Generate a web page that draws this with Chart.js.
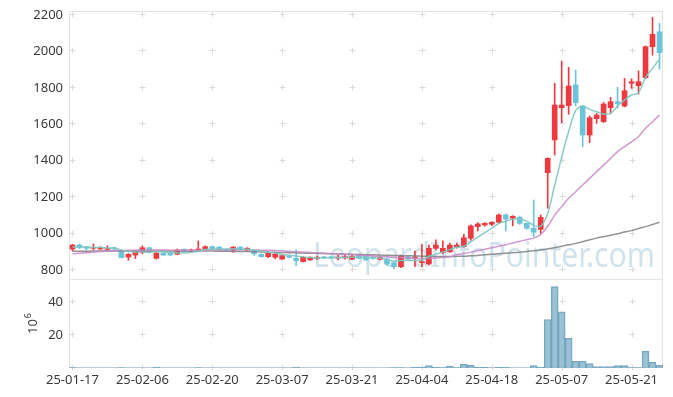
<!DOCTYPE html>
<html>
<head>
<meta charset="utf-8">
<script src="https://cdn.jsdelivr.net/npm/chart.js@4.4.1/dist/chart.umd.min.js"></script>
<style>
  html, body { margin: 0; padding: 0; background: #fff; }
  #wrap { position: relative; width: 673px; height: 397px; }
  #price { position: absolute; left: 0; top: 0; }
  #volume { position: absolute; left: 0; top: 280px; }
</style>
</head>
<body>
<div id="wrap">
  <canvas id="price" width="673" height="280"></canvas>
  <canvas id="volume" width="673" height="117"></canvas>
</div>
<script>
const dates = [
  '25-01-17','25-01-20','25-01-21','25-01-22','25-01-23','25-01-24','25-01-31','25-02-03','25-02-04','25-02-05',
  '25-02-06','25-02-07','25-02-10','25-02-11','25-02-12','25-02-13','25-02-14','25-02-17','25-02-18','25-02-19',
  '25-02-20','25-02-21','25-02-24','25-02-25','25-02-26','25-02-27','25-02-28','25-03-04','25-03-05','25-03-06',
  '25-03-07','25-03-10','25-03-11','25-03-12','25-03-13','25-03-14','25-03-17','25-03-18','25-03-19','25-03-20',
  '25-03-21','25-03-24','25-03-25','25-03-26','25-03-27','25-03-28','25-03-31','25-04-01','25-04-02','25-04-03',
  '25-04-04','25-04-07','25-04-08','25-04-09','25-04-10','25-04-11','25-04-14','25-04-15','25-04-16','25-04-17',
  '25-04-18','25-04-21','25-04-22','25-04-23','25-04-24','25-04-25','25-04-28','25-04-29','25-04-30','25-05-02',
  '25-05-07','25-05-08','25-05-09','25-05-12','25-05-13','25-05-14','25-05-15','25-05-16','25-05-19','25-05-20',
  '25-05-21','25-05-22','25-05-23','25-05-26','25-05-27'
];

const opens = [
  915,937,928,919,915,913,922,908,871,882,
  897,922,864,893,895,886,914,900,906,914,
  928,926,913,906,926,909,906,886,873,870,
  860,877,864,846,855,864,871,870,865,866,
  859,882,877,873,859,859,840,818,873,866,
  840,833,919,897,900,925,928,974,1038,1047,
  1051,1062,1102,1084,1089,1056,1029,1023,1334,1514,
  1691,1702,1816,1700,1541,1631,1614,1691,1724,1700,
  1825,1812,1856,2026,2108
];
const highs = [
  940,943,930,943,928,933,925,910,890,908,
  933,925,896,896,897,915,916,915,959,933,
  931,928,915,928,928,922,908,889,900,895,
  886,880,910,873,872,876,873,873,882,886,
  882,886,880,876,873,862,843,882,879,904,
  941,937,965,960,948,948,996,1048,1060,1060,
  1065,1108,1108,1098,1096,1058,1184,1102,1416,1825,
  1947,1913,1898,1702,1645,1660,1720,1748,1803,1852,
  1850,1893,2030,2187,2154
];
const lows = [
  904,917,910,910,912,908,912,866,853,862,
  888,898,860,880,878,884,898,896,902,912,
  914,908,903,897,908,906,880,870,868,862,
  856,866,824,844,852,856,864,862,855,860,
  855,862,852,860,855,828,805,813,856,818,
  818,827,910,888,897,920,924,963,1014,1040,
  1043,1057,1014,1042,1050,1024,983,1001,1139,1431,
  1609,1655,1700,1477,1499,1605,1610,1660,1688,1695,
  1797,1766,1850,1980,1902
];
const closes = [
  937,922,919,922,922,919,915,868,886,904,
  922,900,893,882,882,910,900,910,915,928,
  916,910,905,926,910,920,888,873,895,888,
  879,870,851,870,870,870,867,866,870,873,
  875,864,855,864,870,833,818,877,860,871,
  846,919,937,919,937,937,977,1042,1053,1056,
  1062,1102,1080,1095,1056,1029,1007,1089,1413,1706,
  1706,1810,1719,1541,1636,1651,1711,1724,1713,1784,
  1834,1834,2026,2094,1993
];

// moving averages
const maShort = [
  926,926,925,924,924,921,919,909,902,898,
  899,896,901,900,896,893,893,897,903,913,
  914,916,915,917,913,914,910,903,897,893,
  885,881,877,872,868,866,866,869,869,869,
  870,870,867,866,866,857,848,852,852,852,
  854,875,887,898,912,925,930,955,980,1005,
  1030,1055,1068,1078,1078,1068,1045,1040,1110,1265,
  1420,1560,1675,1700,1682,1669,1656,1660,1700,1733,
  1761,1773,1858,1907,1957
];
const maMid = [
  889,892,895,898,901,904,906,907,908,909,
  910,910,910,910,909,909,909,909,909,909,
  910,910,910,910,911,911,910,909,908,907,
  905,903,900,898,896,894,892,890,888,886,
  884,882,879,877,875,872,869,868,866,864,
  862,864,866,868,872,885,890,898,906,914,
  922,930,938,948,958,966,975,995,1040,1100,
  1148,1194,1230,1267,1303,1340,1376,1413,1450,1477,
  1504,1532,1578,1614,1651
];
const maLong = [
  903,903,903,904,904,904,904,904,904,904,
  904,904,904,904,904,904,904,904,904,904,
  904,903,903,902,902,901,900,899,898,897,
  896,895,894,893,892,891,890,889,888,887,
  886,885,884,883,882,881,880,879,878,877,
  876,875,874,874,874,875,876,878,880,883,
  886,889,892,895,898,902,906,910,916,922,
  930,938,946,955,966,975,983,991,999,1008,
  1016,1027,1038,1050,1062
];

// volume, 10^6
const volumes = [
  0.2,0.1,0.1,0.1,0.1,0.1,0.1,0.2,0.1,0.1,
  0.1,0.1,0.6,0.1,0.1,0.1,0.1,0.1,0.2,0.1,
  0.1,0.1,0.1,0.1,0.1,0.1,0.1,0.1,0.1,0.1,
  0.1,0.1,0.6,0.1,0.1,0.1,0.1,0.1,0.1,0.1,
  0.1,0.1,0.1,0.1,0.1,0.1,0.2,0.2,0.1,0.5,
  0.5,1.4,0.4,0.2,1.0,0.2,2.3,1.6,0.4,0.4,
  0.1,0.4,0.4,0.1,0.1,0.1,1.4,0.4,29.5,49.5,
  34.2,18.1,4.1,4.1,2.7,0.8,0.8,0.8,1.4,1.4,
  0.3,0.3,10.3,3.5,1.6
];

const xTickLabels = ['25-01-17','25-02-06','25-02-20','25-03-07','25-03-21','25-04-04','25-04-18','25-05-07','25-05-21'];
const priceTicks = [800, 1000, 1200, 1400, 1600, 1800, 2000, 2200];
const volumeTicks = [20, 40];

// Colors
const upColor = '#ec3a40';
const downColor = '#6cc4db';
const candleColors = dates.map((d, i) => closes[i] >= opens[i] ? upColor : downColor);
const tickFont = { family: '"Noto Sans", sans-serif', size: 13 };
const tickColor = '#3a3a3a';

// frame, grid crosses and watermark
const panelDeco = {
  id: 'panelDeco',
  beforeDatasetsDraw(chart, args, opts) {
    const ctx = chart.ctx;
    const a = chart.chartArea;
    const xs = chart.scales.x, ys = chart.scales.y;
    ctx.save();
    ctx.strokeStyle = '#e3e3e3';
    ctx.lineWidth = 1;
    ctx.beginPath();
    if (opts.top) {
      ctx.moveTo(a.left, a.top + 0.5); ctx.lineTo(a.right, a.top + 0.5);
    }
    ctx.moveTo(a.left + 0.5, a.top); ctx.lineTo(a.left + 0.5, a.bottom);
    ctx.moveTo(a.right - 0.5, a.top); ctx.lineTo(a.right - 0.5, a.bottom);
    ctx.moveTo(a.left, a.bottom - 0.5); ctx.lineTo(a.right, a.bottom - 0.5);
    ctx.stroke();

    ctx.strokeStyle = '#dadada';
    ctx.beginPath();
    xTickLabels.forEach(lbl => {
      const x = Math.round(xs.getPixelForValue(dates.indexOf(lbl))) + 0.5;
      opts.crossTicks.forEach(v => {
        const y = Math.round(ys.getPixelForValue(v)) - 0.5;
        ctx.moveTo(x - 3, y); ctx.lineTo(x + 3, y);
        ctx.moveTo(x, y - 3); ctx.lineTo(x, y + 3);
      });
    });
    ctx.stroke();

    if (opts.watermark) {
      const text = 'LeopardInfoPointer.com';
      ctx.font = '34px "Noto Sans"';
      ctx.fillStyle = 'rgba(150, 190, 212, 0.45)';
      ctx.textBaseline = 'alphabetic';
      const w = ctx.measureText(text).width;
      ctx.translate(313, 267);
      ctx.scale(342 / w, 1);
      ctx.fillText(text, 0, 0);
    }
    ctx.restore();
  },
  afterDraw(chart, args, opts) {
    if (!opts.unitTitle) return;
    const ctx = chart.ctx;
    ctx.save();
    ctx.fillStyle = tickColor;
    ctx.translate(37, 54);
    ctx.rotate(-Math.PI / 2);
    ctx.textBaseline = 'alphabetic';
    ctx.font = '13px "Noto Sans"';
    ctx.fillText('10', 0, 0);
    const w = ctx.measureText('10').width;
    ctx.font = '9px "Noto Sans"';
    ctx.fillText('6', w + 1, -6);
    ctx.restore();
  }
};

function fixY(scale) {
  scale.width = 69;
  scale.paddingTop = 0;
  scale.paddingBottom = 0;
}

// Candles + moving averages
new Chart(document.getElementById('price'), {
  type: 'bar',
  data: {
    labels: dates,
    datasets: [
      {
        type: 'line', data: maShort, borderColor: 'rgba(125, 200, 192, 0.9)',
        borderWidth: 1.5, pointRadius: 0, tension: 0.3, order: 0
      },
      {
        type: 'line', data: maMid, borderColor: 'rgba(200, 135, 200, 0.85)',
        borderWidth: 1.5, pointRadius: 0, tension: 0.3, order: 0
      },
      {
        type: 'line', data: maLong, borderColor: 'rgba(128, 128, 128, 0.85)',
        borderWidth: 1.5, pointRadius: 0, tension: 0.3, order: 0
      },
      {
        data: dates.map((d, i) => [lows[i], highs[i]]),
        backgroundColor: candleColors, barThickness: 1, grouped: false, order: 2
      },
      {
        data: dates.map((d, i) => [opens[i], closes[i]]),
        backgroundColor: candleColors, barThickness: 5, grouped: false, minBarLength: 1, order: 1
      }
    ]
  },
  options: {
    responsive: false,
    animation: false,
    events: [],
    layout: { padding: { top: 11, right: 10, bottom: 0, left: 0 } },
    plugins: {
      legend: { display: false },
      tooltip: { enabled: false },
      panelDeco: { top: true, crossTicks: priceTicks, watermark: true }
    },
    scales: {
      x: { display: false, offset: true },
      y: {
        min: 745,
        max: 2222,
        afterBuildTicks: s => { s.ticks = priceTicks.map(v => ({ value: v })); },
        afterFit: fixY,
        grid: { display: false, drawTicks: false },
        border: { display: false },
        ticks: { font: tickFont, color: tickColor, padding: 6, callback: v => String(v) }
      }
    }
  },
  plugins: [panelDeco]
});

// Volume
new Chart(document.getElementById('volume'), {
  type: 'bar',
  data: {
    labels: dates,
    datasets: [{
      data: volumes,
      backgroundColor: 'rgba(130, 178, 203, 0.8)',
      borderColor: 'rgba(95, 150, 180, 0.85)',
      borderWidth: 1,
      categoryPercentage: 1,
      barPercentage: 1
    }]
  },
  options: {
    responsive: false,
    animation: false,
    events: [],
    layout: { padding: { top: 0, right: 10, bottom: 0, left: 0 } },
    plugins: {
      legend: { display: false },
      tooltip: { enabled: false },
      panelDeco: { top: false, crossTicks: [0, 20, 40], unitTitle: true }
    },
    scales: {
      x: {
        offset: true,
        afterFit: s => { s.height = 29; },
        grid: { display: false, drawTicks: false },
        border: { display: false },
        ticks: {
          autoSkip: false,
          maxRotation: 0,
          font: tickFont,
          color: tickColor,
          padding: 4,
          callback: function (v) {
            const d = this.getLabelForValue(v);
            return xTickLabels.includes(d) ? d : '';
          }
        }
      },
      y: {
        min: 0,
        max: 53.5,
        afterBuildTicks: s => { s.ticks = volumeTicks.map(v => ({ value: v })); },
        afterFit: fixY,
        grid: { display: false, drawTicks: false },
        border: { display: false },
        ticks: { font: tickFont, color: tickColor, padding: 6, callback: v => String(v) }
      }
    }
  },
  plugins: [panelDeco]
});
</script>
</body>
</html>
